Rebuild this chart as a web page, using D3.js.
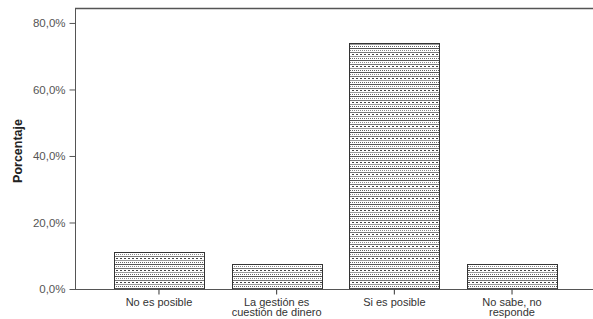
<!DOCTYPE html>
<html>
<head>
<meta charset="utf-8">
<script src="https://cdn.jsdelivr.net/npm/d3@7"></script>
<style>
  body { margin: 0; background: #fff; }
  svg { display: block; font-family: "Liberation Sans", Arial, sans-serif; }
</style>
</head>
<body>
<svg id="chart" width="593" height="319"></svg>
<script>
// data
var categories = ["No es posible", "La gestión es|cuestión de dinero", "Si es posible", "No sabe, no|responde"];
var values = [11.1, 7.5, 74.0, 7.5];
var yTicks = [0, 20, 40, 60, 80];

var svg = d3.select("#chart");

// plot edges (the frame runs off the right side of the picture)
var plotLeft = 75, plotTop = 8, plotBottom = 289;

var x = d3.scaleBand()
  .domain(categories)
  .range([plotLeft, 596])
  .paddingInner(0.235)
  .paddingOuter(0.331);

var y = d3.scaleLinear()
  .domain([0, 84.5])
  .range([plotBottom, plotTop]);

// hatch pattern like the SPSS fill: thin rows every 2px, mixed solid/dotted
var defs = svg.append("defs");
var pat = defs.append("pattern")
  .attr("id", "hatch")
  .attr("patternUnits", "userSpaceOnUse")
  .attr("width", 12)
  .attr("height", 12);
pat.append("rect").attr("width", 12).attr("height", 12).attr("fill", "#fff");
var rows = [
  { c: "#555", dash: null },
  { c: "#888", dash: "1,1" },
  { c: "#777", dash: null },
  { c: "#444", dash: "2,2" },
  { c: "#999", dash: null },
  { c: "#666", dash: "1,1" }
];
rows.forEach(function(r, k) {
  pat.append("line")
    .attr("x1", 0).attr("x2", 12)
    .attr("y1", k * 2 + 0.5).attr("y2", k * 2 + 0.5)
    .attr("stroke", r.c)
    .attr("stroke-width", 1)
    .attr("stroke-dasharray", r.dash);
});

// frame: left and top
svg.append("line")
  .attr("x1", plotLeft + 0.5).attr("x2", plotLeft + 0.5)
  .attr("y1", plotTop + 0.5).attr("y2", plotBottom + 0.5)
  .attr("stroke", "#555");
svg.append("line")
  .attr("x1", plotLeft).attr("x2", 593)
  .attr("y1", plotTop + 0.5).attr("y2", plotTop + 0.5)
  .attr("stroke", "#555").attr("stroke-width", 1.5);

// bars
svg.selectAll("rect.bar")
  .data(values)
  .enter()
  .append("rect")
  .attr("class", "bar")
  .attr("x", function(d, i) { return Math.round(x(categories[i])) + 0.5; })
  .attr("y", function(d) { return Math.round(y(d)) + 0.5; })
  .attr("width", Math.round(x.bandwidth()))
  .attr("height", function(d) { return plotBottom - Math.round(y(d)); })
  .attr("fill", "url(#hatch)")
  .attr("stroke", "#333")
  .attr("stroke-width", 1);

// y axis
var yAxis = svg.append("g")
  .attr("transform", "translate(" + (plotLeft + 0.5) + ",0)")
  .call(d3.axisLeft(y).tickValues(yTicks).tickSize(6)
    .tickFormat(function(d) { return d.toFixed(1).replace(".", ",") + "%"; }));
yAxis.select(".domain").remove();
yAxis.selectAll(".tick line").attr("stroke", "#555");
yAxis.selectAll(".tick text")
  .attr("fill", "#555")
  .attr("font-size", 11.5)
  .attr("x", -10)
  .style("font-family", "'Liberation Sans', Arial, sans-serif");

// x axis
var xAxis = svg.append("g")
  .attr("transform", "translate(0," + (plotBottom + 0.5) + ")")
  .call(d3.axisBottom(x).tickSize(5).tickFormat(""));
xAxis.select(".domain").attr("d", "M" + plotLeft + ",0H593").attr("stroke", "#555");
xAxis.selectAll(".tick line").attr("stroke", "#333");

xAxis.selectAll(".tick").each(function(d) {
  var lines = d.split("|");
  var t = d3.select(this).append("text")
    .attr("fill", "#333")
    .attr("font-size", 11)
    .attr("text-anchor", "middle")
    .style("font-family", "'Liberation Sans', Arial, sans-serif");
  lines.forEach(function(s, k) {
    t.append("tspan").attr("x", 0).attr("y", 16 + k * 10.5).text(s);
  });
});

// y title
svg.append("text")
  .attr("transform", "translate(22,151) rotate(-90)")
  .attr("text-anchor", "middle")
  .attr("font-size", 12.5)
  .attr("font-weight", "bold")
  .attr("fill", "#222")
  .text("Porcentaje");
</script>
</body>
</html>
